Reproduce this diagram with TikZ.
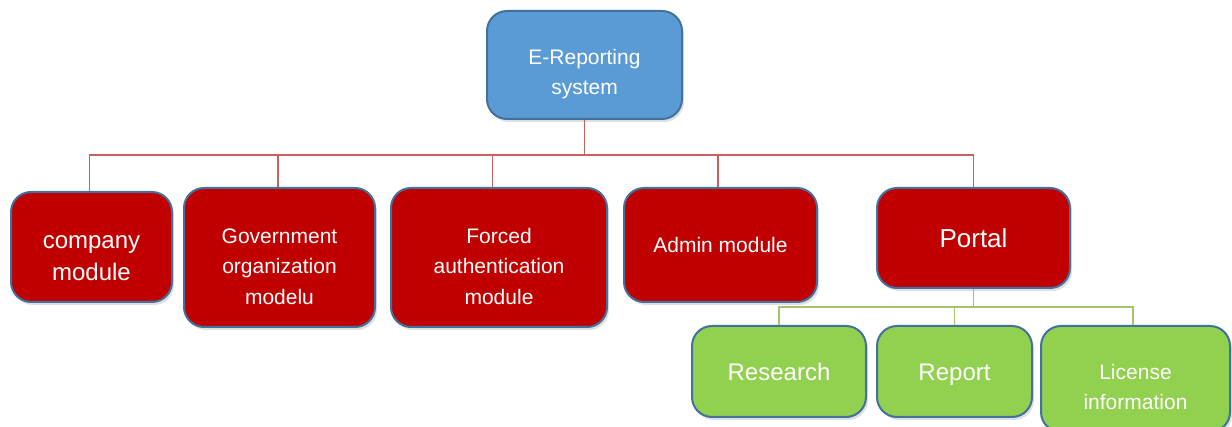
\documentclass[tikz,border=0pt]{standalone}
\usepackage{fontspec}
\setmainfont{Liberation Sans}
\usepackage{tikz}
\usetikzlibrary{positioning, shadows, calc}
\definecolor{boxred}{HTML}{C00000}
\definecolor{boxblue}{HTML}{5B9BD5}
\definecolor{boxgreen}{HTML}{92D050}
\definecolor{boxedge}{HTML}{41719C}
\definecolor{linered}{HTML}{C9605D}
\definecolor{linegreen}{HTML}{A5C46A}
\newcommand{\lowstrut}[1]{\rule{0pt}{#1}}
\tikzstyle{block} = [rectangle, rounded corners=20pt, align=center, inner sep=0pt, draw=boxedge, line width=2pt, text=white, fill=boxred, drop shadow={opacity=0.25, shadow xshift=2pt, shadow yshift=-3pt}, font=\fontsize{21}{30.5}\selectfont]
\tikzstyle{redline} = [linered, line width=1.8pt]
\tikzstyle{greenline} = [linegreen, line width=1.8pt]

\begin{document}
\begin{tikzpicture}[x=1pt, y=-1pt]
  \useasboundingbox (0,0) rectangle (1232,427);
  \node[block, fill=boxblue, minimum width=195pt, minimum height=108pt] (root) at (584.5,65) {\lowstrut{33.5pt}E-Reporting\\system};

  \node[block, minimum width=161pt, minimum height=110pt, font=\fontsize{24}{32}\selectfont] (company) at (91.5,247) {\lowstrut{34.5pt}company\\module};
  \node[block, minimum width=191pt, minimum height=139pt] (gov) at (279.5,257.5) {\lowstrut{33pt}Government\\organization\\modelu};
  \node[block, minimum width=216pt, minimum height=139pt] (forced) at (499,257.5) {\lowstrut{33pt}Forced\\authentication\\module};
  \node[block, minimum width=193pt, minimum height=114pt] (admin) at (720.5,245) {Admin module};
  \node[block, minimum width=193pt, minimum height=100pt, font=\fontsize{26}{32}\selectfont] (portal) at (973.5,238) {Portal};

  \node[block, fill=boxgreen, minimum width=174pt, minimum height=91pt, font=\fontsize{24}{32}\selectfont] (research) at (779,371.5) {Research};
  \node[block, fill=boxgreen, minimum width=155pt, minimum height=91pt, font=\fontsize{24}{32}\selectfont] (report) at (954.5,371.5) {\lowstrut{23pt}Report};
  \node[block, fill=boxgreen, minimum width=189pt, minimum height=106pt] (license) at (1135.5,379) {\lowstrut{31.5pt}License\\information};

  % tree lines
  \coordinate (bus) at (584.5,155);
  \coordinate (subbus) at (973.5,307);
  \draw[redline] (root.south) -- (bus);
  \draw[redline] ([xshift=-2pt]company.north) |- (bus);
  \draw[redline] ([xshift=-1.5pt]gov.north) |- (bus);
  \draw[redline] ([xshift=-6.5pt]forced.north) |- (bus);
  \draw[redline] ([xshift=-2.5pt]admin.north) |- (bus);
  \draw[redline] (portal.north) |- (bus);
  \draw[greenline] (portal.south) -- (subbus);
  \draw[greenline] (research.north) |- (subbus);
  \draw[greenline] (report.north) |- (subbus);
  \draw[greenline] ([xshift=-2.5pt]license.north) |- (subbus);
\end{tikzpicture}
\end{document}
